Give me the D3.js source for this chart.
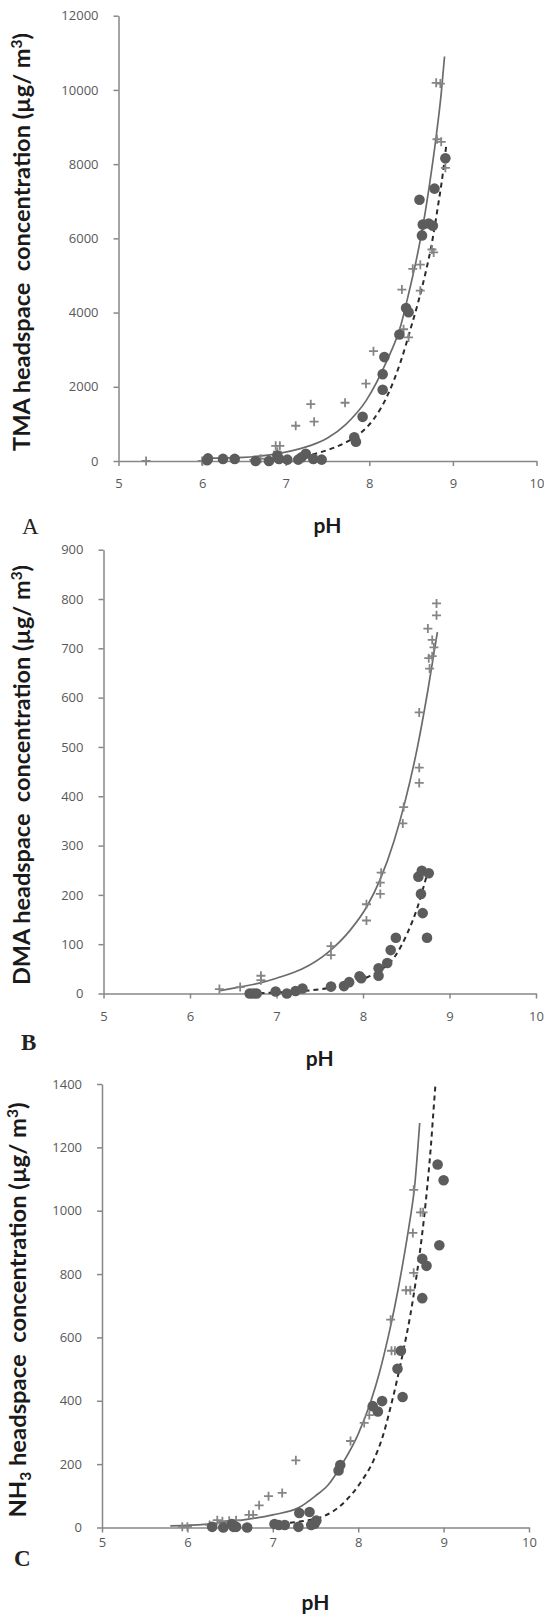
<!DOCTYPE html>
<html>
<head>
<meta charset="utf-8">
<script src="https://cdn.jsdelivr.net/npm/d3@7/dist/d3.min.js"></script>
<style>
  html, body { margin: 0; padding: 0; background: #fff; }
  svg { display: block; }
  .tick text { font-family: "Open Sans", sans-serif; font-size: 13px; fill: #595959; }
  .axis path, .axis line { stroke: #878787; stroke-width: 1.5; }
</style>
</head>
<body>
<svg id="chart" width="544" height="1614"></svg>
<script>
"use strict";

// shared x ticks
const PH_TICKS = [5, 6, 7, 8, 9, 10];

// panel A - TMA, [pH, ug/m3]
const TMA_TICKS = [0, 2000, 4000, 6000, 8000, 10000, 12000];
const tmaPlus = [[5.33, 0], [6.0, 0], [6.62, 30], [6.7, 60], [6.88, 410], [6.93, 410], [6.9, 250], [7.12, 950], [7.3, 1530], [7.34, 1060], [7.71, 1570], [7.96, 2085], [8.05, 2960], [8.39, 4620], [8.41, 3550], [8.47, 3330], [8.52, 5180], [8.61, 5290], [8.61, 4590], [8.75, 5700], [8.77, 5620], [8.81, 8670], [8.86, 8600], [8.91, 7900], [8.8, 10190], [8.85, 10170]];
const tmaDots = [[6.06, 20], [6.07, 70], [6.25, 56], [6.39, 56], [6.64, 0], [6.8, 0], [6.9, 150], [6.92, 56], [7.02, 37], [7.15, 37], [7.19, 100], [7.24, 195], [7.33, 56], [7.43, 37], [7.82, 640], [7.84, 520], [7.92, 1190], [8.16, 1920], [8.16, 2340], [8.18, 2800], [8.36, 3410], [8.44, 4120], [8.47, 4010], [8.6, 7040], [8.63, 6080], [8.64, 6370], [8.71, 6400], [8.76, 6340], [8.78, 7340], [8.91, 8160]];
const tmaFitSolid = [[6.0, 75], [6.5, 100], [7.0, 240], [7.3, 420], [7.5, 620], [7.72, 990], [7.96, 1620], [8.2, 2650], [8.38, 3680], [8.48, 4600], [8.57, 5500], [8.65, 6450], [8.72, 7450], [8.8, 8750], [8.86, 9900], [8.9, 10900]];
const tmaFitDashed = [[7.0, 60], [7.2, 110], [7.42, 237], [7.7, 480], [7.9, 760], [8.05, 1120], [8.22, 1780], [8.38, 2711], [8.5, 3610], [8.58, 4240], [8.68, 5140], [8.74, 5770], [8.82, 6850], [8.88, 7750], [8.92, 8500]];

// panel B - DMA
const DMA_TICKS = [0, 100, 200, 300, 400, 500, 600, 700, 800, 900];
const dmaPlus = [[6.34, 9], [6.58, 13], [6.82, 27], [6.82, 36], [7.63, 78], [7.63, 96], [8.04, 148], [8.04, 181], [8.2, 202], [8.2, 225], [8.21, 245], [8.46, 345], [8.47, 378], [8.65, 427], [8.65, 458], [8.65, 570], [8.77, 659], [8.76, 680], [8.8, 684], [8.82, 702], [8.8, 717], [8.75, 740], [8.85, 767], [8.85, 791]];
const dmaDots = [[6.69, 0], [6.73, 0], [6.77, 0], [6.99, 4], [7.12, 0], [7.22, 5], [7.3, 10], [7.63, 14], [7.78, 15], [7.84, 23], [7.96, 35], [7.98, 31], [8.18, 36], [8.18, 51], [8.28, 62], [8.32, 88], [8.38, 113], [8.64, 237], [8.68, 249], [8.76, 244], [8.67, 202], [8.69, 163], [8.74, 113]];
const dmaFitSolid = [[6.35, 6], [6.6, 14], [6.8, 21], [7.0, 31], [7.3, 50], [7.6, 84], [7.85, 128], [8.05, 178], [8.2, 232], [8.36, 310], [8.48, 385], [8.63, 500], [8.75, 615], [8.86, 733]];
const dmaFitDashed = [[6.7, 0], [7.0, 2], [7.3, 5], [7.6, 11], [7.8, 18], [8.05, 33], [8.2, 47], [8.36, 73], [8.51, 121], [8.63, 175], [8.73, 235]];

// panel C - NH3
const NH3_TICKS = [0, 200, 400, 600, 800, 1000, 1200, 1400];
const nh3Plus = [[5.94, 2], [6.0, 2], [6.26, 8], [6.35, 23], [6.41, 20], [6.49, 21], [6.57, 23], [6.72, 40], [6.77, 40], [6.84, 70], [6.95, 99], [7.11, 109], [7.27, 212], [7.91, 273], [8.07, 330], [8.13, 355], [8.39, 558], [8.43, 558], [8.38, 656], [8.56, 749], [8.61, 749], [8.65, 804], [8.64, 930], [8.73, 995], [8.76, 995], [8.65, 1066]];
const nh3Dots = [[6.29, 2], [6.42, 0], [6.52, 11], [6.54, 2], [6.57, 2], [6.7, 0], [7.02, 11], [7.07, 8], [7.14, 8], [7.3, 2], [7.31, 46], [7.43, 49], [7.45, 8], [7.49, 12], [7.51, 22], [7.77, 180], [7.79, 197], [8.17, 383], [8.23, 366], [8.28, 399], [8.46, 501], [8.5, 558], [8.52, 412], [8.75, 724], [8.75, 848], [8.8, 826], [8.95, 891], [8.93, 1146], [9.0, 1096]];
const nh3FitSolid = [[5.8, 5], [6.2, 10], [6.6, 22], [7.0, 40], [7.3, 62], [7.5, 100], [7.65, 135], [7.8, 195], [8.0, 295], [8.15, 400], [8.25, 490], [8.35, 600], [8.43, 700], [8.52, 830], [8.6, 960], [8.66, 1075], [8.72, 1277]];
const nh3FitDashed = [[7.2, 15], [7.4, 22], [7.6, 36], [7.7, 50], [7.86, 86], [8.02, 139], [8.18, 212], [8.29, 290], [8.37, 370], [8.45, 460], [8.53, 560], [8.61, 670], [8.67, 770], [8.72, 865], [8.77, 975], [8.81, 1080], [8.85, 1200], [8.88, 1310], [8.905, 1400]];

const panels = [
  { left: 118.5, right: 536.5, top: 15.7, bottom: 461, yTicks: TMA_TICKS, plus: tmaPlus, dots: tmaDots, solid: tmaFitSolid, dashed: tmaFitDashed,
    title: [["TMA headspace  concentration (µg/ m"], ["3", "sup"], [")"]], titleX: 30, titleY: 242, titleLen: 418,
    letter: "A", letterX: 22, letterY: 534, letterBold: false, xPad: 13, phY: 533 },
  { left: 103.5, right: 536, top: 549.7, bottom: 993.5, yTicks: DMA_TICKS, plus: dmaPlus, dots: dmaDots, solid: dmaFitSolid, dashed: dmaFitDashed,
    title: [["DMA headspace  concentration (µg/ m"], ["3", "sup"], [")"]], titleX: 30, titleY: 775, titleLen: 420,
    letter: "B", letterX: 21, letterY: 1050, letterBold: true, xPad: 13, phY: 1066 },
  { left: 102, right: 529, top: 1084, bottom: 1527.5, yTicks: NH3_TICKS, plus: nh3Plus, dots: nh3Dots, solid: nh3FitSolid, dashed: nh3FitDashed,
    title: [["NH"], ["3", "sub"], [" headspace  concentration (µg/ m"], ["3", "sup"], [")"]], titleX: 26, titleY: 1310, titleLen: 415,
    letter: "C", letterX: 14, letterY: 1566, letterBold: true, xPad: 5, phY: 1610 },
];

const svg = d3.select("#chart");
svg.append("rect").attr("width", 544).attr("height", 1614).attr("fill", "#fff");

panels.forEach(drawPanel);

function drawPanel(p) {
  const x = d3.scaleLinear().domain([5, 10]).range([p.left, p.right]);
  const y = d3.scaleLinear().domain([0, p.yTicks[p.yTicks.length - 1]]).range([p.bottom, p.top]);
  const g = svg.append("g");

  g.append("g").attr("class", "axis").attr("transform", "translate(0," + p.bottom + ")")
    .call(d3.axisBottom(x).tickValues(PH_TICKS).tickFormat(d3.format("d")).tickSize(5).tickPadding(p.xPad).tickSizeOuter(0));
  g.append("g").attr("class", "axis").attr("transform", "translate(" + p.left + ",0)")
    .call(d3.axisLeft(y).tickValues(p.yTicks).tickFormat(d3.format("d")).tickSize(5).tickPadding(15).tickSizeOuter(0));

  const line = d3.line().x(function (d) { return x(d[0]); }).y(function (d) { return y(d[1]); }).curve(d3.curveMonotoneX);
  g.append("path").attr("d", line(p.solid)).attr("fill", "none").attr("stroke", "#6b6b6b").attr("stroke-width", 1.7);
  g.append("path").attr("d", line(p.dashed)).attr("fill", "none").attr("stroke", "#2b2b2b").attr("stroke-width", 2).attr("stroke-dasharray", "5,4");

  g.selectAll("path.plus").data(p.plus).join("path").attr("class", "plus")
    .attr("transform", function (d) { return "translate(" + x(d[0]) + "," + y(d[1]) + ")"; })
    .attr("d", "M-4.5,0H4.5M0,-4.5V4.5").attr("stroke", "#858585").attr("stroke-width", 1.8).attr("fill", "none");
  g.selectAll("circle.dot").data(p.dots).join("circle").attr("class", "dot")
    .attr("cx", function (d) { return x(d[0]); }).attr("cy", function (d) { return y(d[1]); })
    .attr("r", 5.3).attr("fill", "#5c5c5c");

  // y title
  const t = g.append("text").attr("transform", "translate(" + p.titleX + "," + p.titleY + ") rotate(-90)")
    .attr("text-anchor", "middle").attr("font-family", "Lato, 'Open Sans', sans-serif").attr("font-weight", "bold")
    .attr("font-size", 23).attr("fill", "#1a1a1a").style("white-space", "pre")
    .attr("textLength", p.titleLen).attr("lengthAdjust", "spacingAndGlyphs");
  let shift = 0;
  p.title.forEach(function (part) {
    const ts = t.append("tspan").text(part[0]);
    const target = part[1] === "sup" ? -8 : part[1] === "sub" ? 5 : 0;
    ts.attr("dy", target - shift);
    if (part[1]) ts.attr("font-size", 15);
    shift = target;
  });

  g.append("text").attr("x", (p.left + p.right) / 2).attr("y", p.phY).attr("text-anchor", "middle")
    .attr("font-family", "Lato, 'Open Sans', sans-serif").attr("font-weight", "bold").attr("font-size", 21)
    .attr("fill", "#1a1a1a").text("pH");

  g.append("text").attr("x", p.letterX).attr("y", p.letterY)
    .attr("font-family", "'Liberation Serif', 'DejaVu Serif', serif").attr("font-weight", p.letterBold ? "bold" : "normal")
    .attr("font-size", 23).attr("fill", "#222").text(p.letter);
}
</script>
</body>
</html>
